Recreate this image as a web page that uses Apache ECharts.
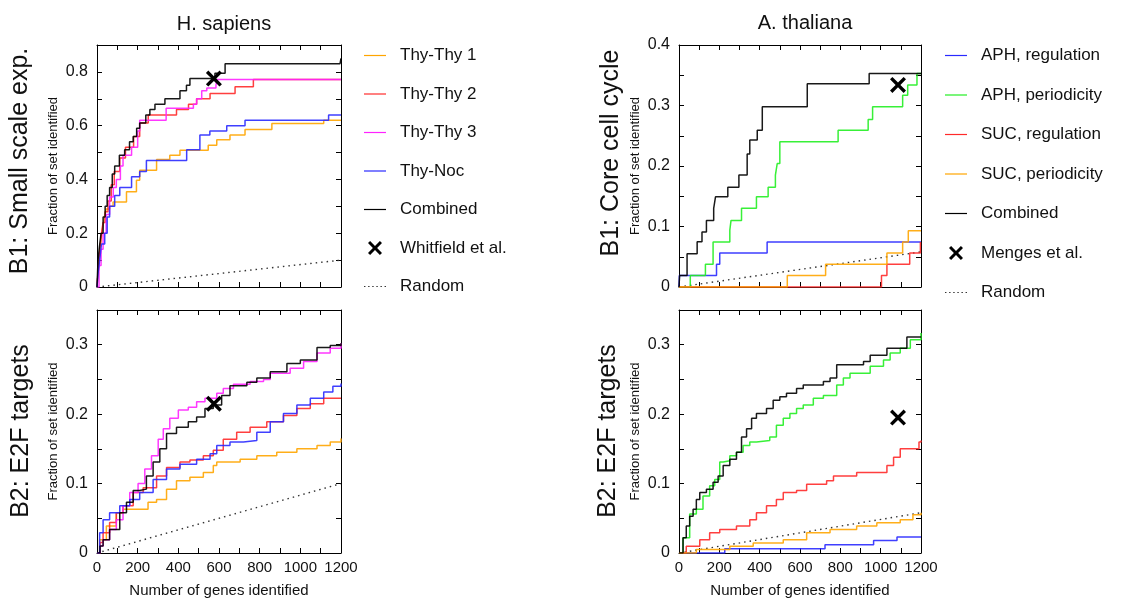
<!DOCTYPE html>
<html>
<head>
<meta charset="utf-8">
<script src="https://cdn.jsdelivr.net/npm/echarts@6/dist/echarts.min.js"></script>
<style>
  html, body { margin: 0; padding: 0; background: #fff; }
  #main { width: 1141px; height: 603px; }
</style>
</head>
<body>
<div id="main"></div>
<script>
// H. sapiens, B1: small scale exp.  [genes, fraction]
var hsB1_thy1 = [[0,0],[5,0.06],[12,0.12],[20,0.18],[28,0.22],[36,0.26],[45,0.29],[62,0.3],[79,0.316],[145,0.354],[194,0.397],[210,0.434],[293,0.474],[358,0.49],[408,0.509],[547,0.527],[589,0.548],[654,0.565],[728,0.586],[860,0.608],[1115,0.62],[1200,0.62]];
var hsB1_thy2 = [[0,0],[8,0.08],[15,0.14],[22,0.2],[30,0.24],[40,0.28],[54,0.32],[70,0.38],[85,0.43],[112,0.48],[140,0.52],[180,0.56],[210,0.61],[252,0.64],[391,0.66],[450,0.68],[490,0.70],[556,0.72],[679,0.745],[769,0.772],[1200,0.772]];
var hsB1_thy3 = [[0,0],[10,0.08],[20,0.14],[30,0.2],[45,0.27],[62,0.335],[80,0.37],[95,0.40],[115,0.45],[128,0.49],[170,0.52],[200,0.58],[210,0.62],[340,0.665],[474,0.68],[490,0.70],[515,0.73],[540,0.74],[585,0.75],[590,0.772],[1200,0.772]];
var hsB1_noc = [[0,0],[5,0.05],[13,0.1],[22,0.16],[38,0.2],[50,0.26],[62,0.3],[87,0.34],[112,0.37],[170,0.41],[210,0.43],[243,0.47],[441,0.51],[506,0.565],[555,0.58],[638,0.60],[728,0.62],[1139,0.64],[1200,0.64]];
var hsB1_comb = [[0,0],[5,0.1],[12,0.15],[20,0.2],[30,0.26],[40,0.3],[50,0.34],[62,0.37],[75,0.42],[87,0.45],[110,0.49],[136,0.51],[160,0.54],[178,0.56],[195,0.59],[210,0.61],[240,0.64],[260,0.66],[285,0.68],[334,0.70],[408,0.73],[440,0.75],[457,0.775],[580,0.795],[630,0.83],[1195,0.83],[1200,0.85]];
var hsB1_known = [[575,0.775]];
var hsB1_rand = [[0,0],[1200,0.1]];

// H. sapiens, B2: E2F targets
var hsB2_thy1 = [[0,0],[13,0.019],[46,0.039],[95,0.058],[128,0.063],[251,0.073],[293,0.077],[342,0.092],[391,0.104],[457,0.109],[523,0.116],[572,0.126],[589,0.131],[704,0.135],[786,0.14],[884,0.145],[983,0.15],[1082,0.155],[1147,0.16],[1200,0.165]];
var hsB2_thy2 = [[0,0],[15,0.015],[30,0.029],[62,0.044],[95,0.058],[128,0.068],[178,0.087],[227,0.094],[293,0.111],[342,0.123],[408,0.131],[457,0.134],[523,0.14],[572,0.148],[621,0.164],[687,0.174],[753,0.181],[835,0.189],[917,0.198],[983,0.208],[1049,0.215],[1115,0.223],[1200,0.223]];
var hsB2_thy3 = [[0,0],[15,0.01],[30,0.019],[62,0.034],[95,0.048],[128,0.068],[161,0.087],[202,0.10],[235,0.121],[268,0.14],[301,0.164],[326,0.179],[358,0.194],[400,0.206],[449,0.21],[490,0.218],[531,0.223],[589,0.23],[621,0.237],[671,0.243],[753,0.247],[819,0.25],[852,0.259],[950,0.266],[1016,0.276],[1082,0.288],[1147,0.295],[1200,0.302]];
var hsB2_noc = [[0,0],[13,0.029],[30,0.048],[62,0.058],[112,0.068],[161,0.077],[210,0.087],[276,0.106],[342,0.121],[408,0.128],[490,0.135],[556,0.143],[589,0.155],[654,0.16],[720,0.162],[786,0.174],[852,0.189],[917,0.201],[983,0.213],[1049,0.223],[1115,0.232],[1160,0.24],[1200,0.244]];
var hsB2_comb = [[0,0],[15,0.01],[30,0.019],[62,0.034],[112,0.058],[145,0.073],[178,0.09],[210,0.092],[243,0.111],[276,0.131],[309,0.15],[342,0.172],[391,0.181],[449,0.189],[490,0.196],[531,0.208],[572,0.213],[613,0.227],[654,0.241],[737,0.246],[786,0.252],[852,0.261],[934,0.273],[1000,0.278],[1082,0.296],[1147,0.299],[1200,0.302]];
var hsB2_known = [[575,0.215]];
var hsB2_rand = [[0,0],[1200,0.1]];

// A. thaliana, B1: core cell cycle
var atB1_aphReg = [[0,0],[2,0.019],[186,0.0375],[202,0.056],[437,0.0745],[1200,0.0745]];
var atB1_aphPer = [[0,0],[56,0.019],[131,0.0375],[169,0.0745],[252,0.094],[258,0.11],[310,0.13],[384,0.149],[442,0.165],[478,0.185],[487,0.204],[500,0.24],[789,0.259],[938,0.277],[960,0.298],[1109,0.317],[1134,0.334],[1180,0.353],[1200,0.353]];
var atB1_sucReg = [[0,0],[1004,0.019],[1031,0.0375],[1144,0.056],[1197,0.0745],[1200,0.0745]];
var atB1_sucPer = [[0,0],[537,0.019],[727,0.0375],[1031,0.056],[1109,0.0745],[1137,0.093],[1200,0.093]];
var atB1_comb = [[0,0],[3,0.019],[40,0.055],[90,0.075],[114,0.091],[136,0.11],[172,0.13],[181,0.149],[242,0.165],[297,0.185],[338,0.22],[351,0.243],[388,0.259],[413,0.298],[636,0.336],[943,0.353],[1200,0.353]];
var atB1_known = [[1086,0.334]];
var atB1_rand = [[0,0],[1200,0.058]];

// A. thaliana, B2: E2F targets
var atB2_aphReg = [[0,0],[227,0.006],[724,0.012],[965,0.018],[1081,0.023],[1200,0.023]];
var atB2_aphPer = [[0,0],[20,0.022],[53,0.056],[86,0.063],[119,0.082],[152,0.097],[177,0.106],[202,0.131],[219,0.133],[252,0.14],[285,0.145],[318,0.155],[351,0.16],[384,0.162],[450,0.167],[483,0.184],[517,0.194],[550,0.201],[583,0.208],[616,0.213],[666,0.223],[716,0.227],[782,0.242],[815,0.252],[848,0.259],[948,0.269],[1014,0.278],[1047,0.288],[1097,0.295],[1147,0.307],[1200,0.317]];
var atB2_sucReg = [[0,0],[36,0.0097],[103,0.019],[152,0.029],[202,0.034],[285,0.039],[351,0.048],[384,0.058],[434,0.068],[483,0.077],[517,0.087],[583,0.09],[633,0.099],[732,0.104],[766,0.111],[881,0.116],[1031,0.126],[1064,0.138],[1097,0.15],[1190,0.16],[1200,0.162]];
var atB2_sucPer = [[0,0],[86,0.005],[252,0.0097],[368,0.0145],[517,0.019],[633,0.029],[749,0.034],[881,0.039],[981,0.0435],[1097,0.048],[1160,0.055],[1200,0.058]];
var atB2_comb = [[0,0],[20,0.022],[36,0.039],[53,0.053],[70,0.063],[86,0.077],[103,0.087],[136,0.092],[169,0.102],[194,0.111],[219,0.126],[252,0.135],[285,0.145],[310,0.167],[335,0.179],[360,0.194],[384,0.201],[434,0.208],[467,0.22],[500,0.225],[533,0.23],[583,0.237],[616,0.242],[716,0.247],[749,0.252],[782,0.271],[915,0.276],[948,0.285],[1031,0.295],[1130,0.311],[1200,0.311]];
var atB2_known = [[1086,0.195]];
var atB2_rand = [[0,0],[1200,0.058]];

var hsNames = ['Thy-Thy 1', 'Thy-Thy 2', 'Thy-Thy 3', 'Thy-Noc', 'Combined', 'Whitfield et al.', 'Random'];
var atNames = ['APH, regulation', 'APH, periodicity', 'SUC, regulation', 'SUC, periodicity', 'Combined', 'Menges et al.', 'Random'];

var FONT = 'Liberation Sans, Arial, sans-serif';
var CROSS = 'path://M0,3 L3,0 L10,7 L17,0 L20,3 L13,10 L20,17 L17,20 L10,13 L3,20 L0,17 L7,10 Z';
var ICON_LINE = 'path://M0,0h22v1.2h-22z';
var ICON_DOTS = 'path://M0,0h1.4v1.2h-1.4zM4,0h1.4v1.2h-1.4zM8,0h1.4v1.2h-1.4zM12,0h1.4v1.2h-1.4zM16,0h1.4v1.2h-1.4zM20,0h1.4v1.2h-1.4z';

// grid boxes: [left, top, width, height], y max, tick step, label step
var panels = [
  {box: [97, 45, 244, 242], ymax: 0.9, yint: 0.1, ylab: 0.2, bottom: false},
  {box: [97, 310, 244, 243], ymax: 0.35, yint: 0.05, ylab: 0.1, bottom: true},
  {box: [679, 45, 242, 242], ymax: 0.4, yint: 0.05, ylab: 0.1, bottom: false},
  {box: [679, 310, 242, 243], ymax: 0.35, yint: 0.05, ylab: 0.1, bottom: true}
];

function yLab(step) {
  return function (v) {
    var k = v / step;
    return Math.abs(k - Math.round(k)) < 1e-6 ? String(+v.toFixed(2)) : '';
  };
}

var grids = [], xAxes = [], yAxes = [];
var tick = {show: true, inside: true, length: 5, lineStyle: {color: '#000', width: 1}};
var line = {show: true, onZero: false, lineStyle: {color: '#000', width: 1}};
panels.forEach(function (p, i) {
  grids.push({left: p.box[0], top: p.box[1], width: p.box[2], height: p.box[3], containLabel: false});
  xAxes.push({
    type: 'value', gridIndex: i, min: 0, max: 1200, interval: 100, position: 'bottom',
    axisLine: line, axisTick: tick, splitLine: {show: false},
    axisLabel: {show: p.bottom, margin: 7, fontSize: 15, fontFamily: FONT, color: '#111',
      formatter: function (v) { return v % 200 === 0 ? String(v) : ''; }},
    name: p.bottom ? 'Number of genes identified' : '', nameLocation: 'middle', nameGap: 30,
    nameTextStyle: {fontSize: 15, fontFamily: FONT, color: '#111'}
  });
  yAxes.push({
    type: 'value', gridIndex: i, min: 0, max: p.ymax, interval: p.yint, position: 'left',
    axisLine: line, axisTick: tick, splitLine: {show: false},
    axisLabel: {margin: 9, fontSize: 16, fontFamily: FONT, color: '#111', formatter: yLab(p.ylab)},
    name: 'Fraction of set identified', nameLocation: 'middle', nameGap: 37,
    nameTextStyle: {fontSize: 13, fontFamily: FONT, color: '#111'}
  });
});
// mirrored frame with ticks on top and right
panels.forEach(function (p, i) {
  xAxes.push({type: 'value', gridIndex: i, min: 0, max: 1200, interval: 100, position: 'top',
    axisLine: line, axisTick: tick, axisLabel: {show: false}, splitLine: {show: false}});
  yAxes.push({type: 'value', gridIndex: i, min: 0, max: p.ymax, interval: p.yint, position: 'right',
    axisLine: line, axisTick: tick, axisLabel: {show: false}, splitLine: {show: false}});
});

function stepLine(name, data, color, i) {
  return {name: name, type: 'line', step: 'end', data: data, xAxisIndex: i, yAxisIndex: i,
    symbol: 'none', lineStyle: {color: color, width: 1.5, opacity: 0.9}, itemStyle: {color: color}, z: 3};
}
function randLine(data, i) {
  return {name: 'Random', type: 'line', data: data, xAxisIndex: i, yAxisIndex: i, symbol: 'none',
    lineStyle: {color: '#333', width: 1.4, type: [1.5, 4]}, itemStyle: {color: '#333'}, z: 2};
}
function known(name, data, i) {
  return {name: name, type: 'scatter', data: data, xAxisIndex: i, yAxisIndex: i,
    symbol: CROSS, symbolSize: 16, itemStyle: {color: '#000', opacity: 1}, z: 5};
}

var cOrange = '#ffa500', cRed = '#ff2a2a', cMag = '#ff22ff', cBlue = '#2a2aff', cGreen = '#22ee22', cBlack = '#000';

var series = [
  stepLine('Thy-Thy 1', hsB1_thy1, cOrange, 0),
  stepLine('Thy-Thy 2', hsB1_thy2, cRed, 0),
  stepLine('Thy-Thy 3', hsB1_thy3, cMag, 0),
  stepLine('Thy-Noc', hsB1_noc, cBlue, 0),
  stepLine('Combined', hsB1_comb, cBlack, 0),
  known('Whitfield et al.', hsB1_known, 0),
  randLine(hsB1_rand, 0),

  stepLine('Thy-Thy 1', hsB2_thy1, cOrange, 1),
  stepLine('Thy-Thy 2', hsB2_thy2, cRed, 1),
  stepLine('Thy-Thy 3', hsB2_thy3, cMag, 1),
  stepLine('Thy-Noc', hsB2_noc, cBlue, 1),
  stepLine('Combined', hsB2_comb, cBlack, 1),
  known('Whitfield et al.', hsB2_known, 1),
  randLine(hsB2_rand, 1),

  stepLine('APH, regulation', atB1_aphReg, cBlue, 2),
  stepLine('APH, periodicity', atB1_aphPer, cGreen, 2),
  stepLine('SUC, regulation', atB1_sucReg, cRed, 2),
  stepLine('SUC, periodicity', atB1_sucPer, cOrange, 2),
  stepLine('Combined', atB1_comb, cBlack, 2),
  known('Menges et al.', atB1_known, 2),
  randLine(atB1_rand, 2),

  stepLine('APH, regulation', atB2_aphReg, cBlue, 3),
  stepLine('APH, periodicity', atB2_aphPer, cGreen, 3),
  stepLine('SUC, regulation', atB2_sucReg, cRed, 3),
  stepLine('SUC, periodicity', atB2_sucPer, cOrange, 3),
  stepLine('Combined', atB2_comb, cBlack, 3),
  known('Menges et al.', atB2_known, 3),
  randLine(atB2_rand, 3)
];

// legend entries: plain line icons, a cross for the published set, dots for random
function legendItems(names) {
  return names.map(function (n) {
    if (n === 'Random') return {name: n, icon: ICON_DOTS};
    if (n.indexOf('et al.') > 0) return {name: n, icon: CROSS, itemStyle: {opacity: 1}};
    return {name: n, icon: ICON_LINE};
  });
}

function rowLabel(text, x, y) {
  return {type: 'text', x: x, y: y, rotation: Math.PI / 2,
    style: {text: text, fontSize: 25, fontFamily: FONT, fill: '#111', align: 'center', verticalAlign: 'middle'}};
}

var legendText = {fontSize: 17, fontFamily: FONT, color: '#111', padding: [0, 0, 0, 9]};

var chart = echarts.init(document.getElementById('main'));
chart.setOption({
  animation: false,
  backgroundColor: '#fff',
  title: [
    {text: 'H. sapiens', left: 219, top: 9, textAlign: 'center',
      textStyle: {fontSize: 20, fontWeight: 'normal', fontFamily: FONT, color: '#111'}},
    {text: 'A. thaliana', left: 800, top: 8, textAlign: 'center',
      textStyle: {fontSize: 20, fontWeight: 'normal', fontFamily: FONT, color: '#111'}}
  ],
  legend: [
    {data: legendItems(hsNames), orient: 'vertical', left: 359, top: 42, itemWidth: 22, itemHeight: 14, itemGap: 21.5,
      selectedMode: false, textStyle: legendText},
    {data: legendItems(atNames), orient: 'vertical', left: 940, top: 42, itemWidth: 22, itemHeight: 14, itemGap: 22.5,
      selectedMode: false, textStyle: legendText}
  ],
  graphic: [
    rowLabel('B1: Small scale exp.', 20, 161),
    rowLabel('B2: E2F targets', 21, 431),
    rowLabel('B1: Core cell cycle', 611, 153),
    rowLabel('B2: E2F targets', 608, 431)
  ],
  grid: grids,
  xAxis: xAxes,
  yAxis: yAxes,
  series: series
});
</script>
</body>
</html>
